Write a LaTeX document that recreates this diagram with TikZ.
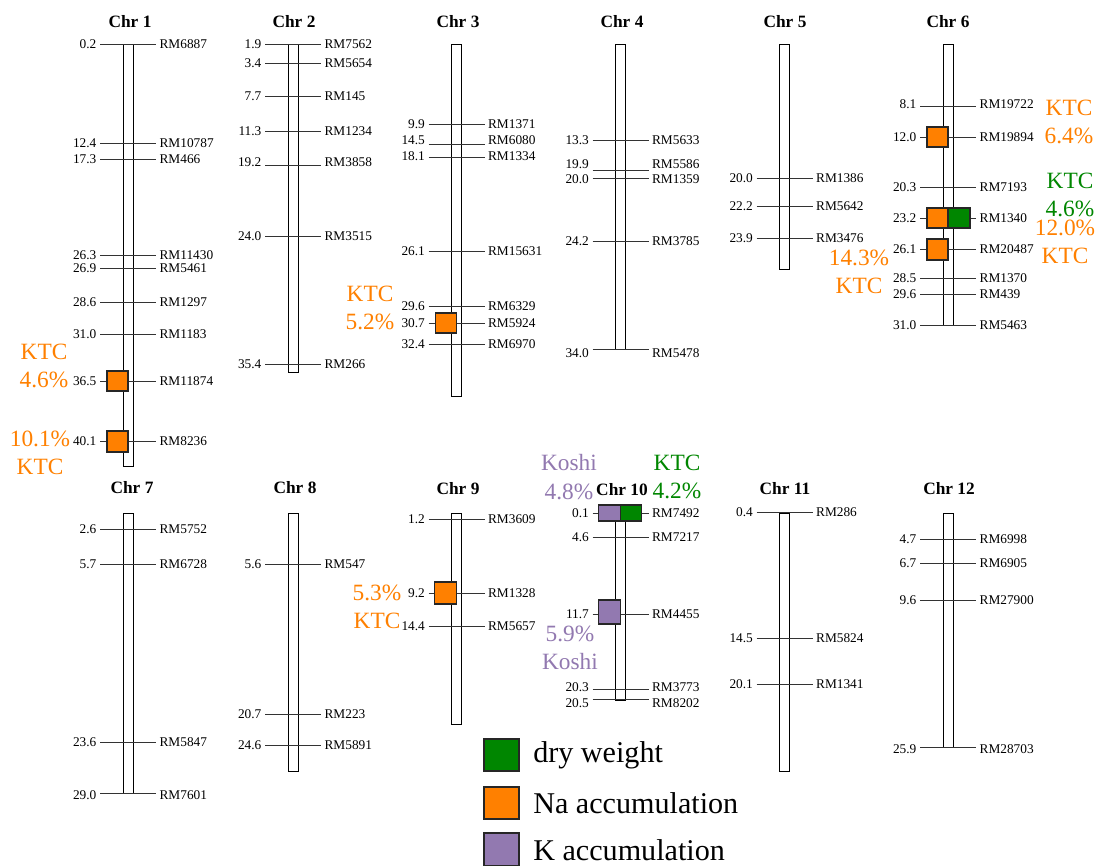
\documentclass[tikz,border=0pt]{standalone}
\usepackage{fontspec}
\setmainfont{Liberation Serif}
\usepackage{xcolor}
\definecolor{qtlorange}{RGB}{255,128,0}
\definecolor{qtlgreen}{RGB}{0,134,0}
\definecolor{qtlpurple}{RGB}{146,121,176}
\usepackage{tikz}
\usetikzlibrary{positioning}
% marker: name, bar centre, line y, label y, position, marker name
\newcommand{\mrk}[6]{%
  \draw[tick] (#2-28,#3) -- (#2+28,#3);
  \node[poslbl] (#1p) at (#2-28,#4) {#5};
  \node[mrklbl] (#1m) at (#2+28,#4) {#6};}
% chromosome body: bar centre, top, bottom
\newcommand{\chrbody}[3]{\draw[chrbar] (#1-5,#2) rectangle (#1+5,#3);}

\begin{document}
\begin{tikzpicture}[x=0.75pt, y=-0.75pt,
  tick/.style={line width=0.75pt, black!80},
  chrbar/.style={draw=black, line width=0.7pt},
  poslbl/.style={anchor=east, inner sep=2.5pt, font=\fontsize{10}{12}\selectfont},
  mrklbl/.style={anchor=west, inner sep=2.5pt, font=\fontsize{10}{12}\selectfont},
  chrtitle/.style={font=\fontsize{13}{15}\selectfont\bfseries},
  qtlbox/.style={draw=black!85, line width=0.8pt},
  qtllbl/.style={align=center, inner sep=0.5pt, font=\fontsize{17.5}{21.5}\selectfont},
  legtext/.style={anchor=west, inner sep=0pt, font=\fontsize{22.6}{26}\selectfont}]
  \useasboundingbox (0,0) rectangle (1100,865);

  % --- Row 1 ---
  % Chr 1
  \node[chrtitle] (chr1) at (130,22) {Chr 1};
  \chrbody{128}{44}{466}
  \mrk{c1a}{128}{44}{44}{0.2}{RM6887}
  \mrk{c1b}{128}{143}{143}{12.4}{RM10787}
  \mrk{c1c}{128}{159}{159}{17.3}{RM466}
  \mrk{c1d}{128}{255}{255}{26.3}{RM11430}
  \mrk{c1e}{128}{268}{268}{26.9}{RM5461}
  \mrk{c1f}{128}{302}{302}{28.6}{RM1297}
  \mrk{c1g}{128}{334}{334}{31.0}{RM1183}
  \mrk{c1h}{128}{381}{381}{36.5}{RM11874}
  \mrk{c1i}{128}{441}{441}{40.1}{RM8236}
  \draw[qtlbox, fill=qtlorange] (107,371) rectangle (128,391);
  \draw[qtlbox, fill=qtlorange] (107,431) rectangle (128,452);
  \node[qtllbl, qtlorange] (q1a) at (44,366) {KTC\\4.6\%};
  \node[qtllbl, qtlorange] (q1b) at (40,453) {10.1\%\\KTC};

  % Chr 2
  \node[chrtitle] (chr2) at (294,22) {Chr 2};
  \chrbody{293}{44}{372}
  \mrk{c2a}{293}{44}{44}{1.9}{RM7562}
  \mrk{c2b}{293}{63}{63}{3.4}{RM5654}
  \mrk{c2c}{293}{96}{96}{7.7}{RM145}
  \mrk{c2d}{293}{131}{131}{11.3}{RM1234}
  \mrk{c2e}{293}{165}{162}{19.2}{RM3858}
  \mrk{c2f}{293}{236}{236}{24.0}{RM3515}
  \mrk{c2g}{293}{364}{364}{35.4}{RM266}

  % Chr 3
  \node[chrtitle] (chr3) at (458,22) {Chr 3};
  \chrbody{456.5}{44}{396}
  \mrk{c3a}{456.5}{124}{124}{9.9}{RM1371}
  \mrk{c3b}{456.5}{144}{140}{14.5}{RM6080}
  \mrk{c3c}{456.5}{157}{156}{18.1}{RM1334}
  \mrk{c3d}{456.5}{251}{251}{26.1}{RM15631}
  \mrk{c3e}{456.5}{306}{306}{29.6}{RM6329}
  \mrk{c3f}{456.5}{323}{323}{30.7}{RM5924}
  \mrk{c3g}{456.5}{344}{344}{32.4}{RM6970}
  \draw[qtlbox, fill=qtlorange] (435.5,313) rectangle (456.5,333);
  \node[qtllbl, qtlorange] (q3a) at (370,308) {KTC\\5.2\%};

  % Chr 4
  \node[chrtitle] (chr4) at (622,22) {Chr 4};
  \chrbody{620.5}{44}{349}
  \mrk{c4a}{620.5}{140}{140}{13.3}{RM5633}
  \mrk{c4b}{620.5}{170}{164}{19.9}{RM5586}
  \mrk{c4c}{620.5}{178}{179}{20.0}{RM1359}
  \mrk{c4d}{620.5}{241}{241}{24.2}{RM3785}
  \mrk{c4e}{620.5}{349}{353}{34.0}{RM5478}

  % Chr 5
  \node[chrtitle] (chr5) at (785,22) {Chr 5};
  \chrbody{784.5}{44}{269}
  \mrk{c5a}{784.5}{178}{178}{20.0}{RM1386}
  \mrk{c5b}{784.5}{206}{206}{22.2}{RM5642}
  \mrk{c5c}{784.5}{238}{238}{23.9}{RM3476}
  \node[qtllbl, qtlorange] (q5a) at (859,272) {14.3\%\\KTC};

  % Chr 6
  \node[chrtitle] (chr6) at (948,22) {Chr 6};
  \chrbody{948}{44}{325}
  \mrk{c6a}{948}{106}{104}{8.1}{RM19722}
  \mrk{c6b}{948}{137}{137}{12.0}{RM19894}
  \mrk{c6c}{948}{187}{187}{20.3}{RM7193}
  \mrk{c6d}{948}{218}{218}{23.2}{RM1340}
  \mrk{c6e}{948}{249}{249}{26.1}{RM20487}
  \mrk{c6f}{948}{278}{278}{28.5}{RM1370}
  \mrk{c6g}{948}{294}{294}{29.6}{RM439}
  \mrk{c6h}{948}{325}{325}{31.0}{RM5463}
  \draw[qtlbox, fill=qtlorange] (927,127) rectangle (948,147);
  \draw[qtlbox, fill=qtlorange] (927,208) rectangle (948,228);
  \draw[qtlbox, fill=qtlgreen] (948,208) rectangle (970,228);
  \draw[qtlbox, fill=qtlorange] (927,239) rectangle (948,260);
  \node[qtllbl, qtlorange] (q6a) at (1069,122) {KTC\\6.4\%};
  \node[qtllbl, qtlgreen] (q6b) at (1070,195) {KTC\\4.6\%};
  \node[qtllbl, qtlorange] (q6c) at (1065,242) {12.0\%\\KTC};

  % --- Row 2 ---
  % Chr 7
  \node[chrtitle] (chr7) at (132,488) {Chr 7};
  \chrbody{128}{513}{793}
  \mrk{c7a}{128}{529}{529}{2.6}{RM5752}
  \mrk{c7b}{128}{564}{564}{5.7}{RM6728}
  \mrk{c7c}{128}{742}{742}{23.6}{RM5847}
  \mrk{c7d}{128}{793}{795}{29.0}{RM7601}

  % Chr 8
  \node[chrtitle] (chr8) at (295,488) {Chr 8};
  \chrbody{293}{513}{771}
  \mrk{c8a}{293}{564}{564}{5.6}{RM547}
  \mrk{c8b}{293}{714}{714}{20.7}{RM223}
  \mrk{c8c}{293}{745}{745}{24.6}{RM5891}

  % Chr 9
  \node[chrtitle] (chr9) at (458,489) {Chr 9};
  \chrbody{456.5}{513}{724}
  \mrk{c9a}{456.5}{519}{519}{1.2}{RM3609}
  \mrk{c9b}{456.5}{593}{593}{9.2}{RM1328}
  \mrk{c9c}{456.5}{626}{626}{14.4}{RM5657}
  \draw[qtlbox, fill=qtlorange] (434.5,582) rectangle (456.5,604);
  \node[qtllbl, qtlorange] (q9a) at (377,607) {5.3\%\\KTC};

  % Chr 10
  \node[chrtitle] (chr10) at (622,490) {Chr 10};
  \chrbody{620.5}{513}{700}
  \mrk{c10a}{620.5}{513}{513}{0.1}{RM7492}
  \mrk{c10b}{620.5}{537}{537}{4.6}{RM7217}
  \mrk{c10c}{620.5}{614}{614}{11.7}{RM4455}
  \mrk{c10d}{620.5}{689}{687}{20.3}{RM3773}
  \mrk{c10e}{620.5}{699}{703}{20.5}{RM8202}
  \draw[qtlbox, fill=qtlpurple] (598.5,505) rectangle (620.5,521);
  \draw[qtlbox, fill=qtlgreen] (620.5,505) rectangle (641.5,521);
  \draw[qtlbox, fill=qtlpurple] (598.5,600) rectangle (620.5,624);
  \node[qtllbl, qtlpurple] (q10a) at (569,477) {Koshi\\4.8\%};
  \node[qtllbl, qtlgreen] (q10b) at (677,477) {KTC\\4.2\%};
  \node[qtllbl, qtlpurple] (q10c) at (570,648) {5.9\%\\Koshi};

  % Chr 11
  \node[chrtitle] (chr11) at (785,489) {Chr 11};
  \chrbody{784.5}{513}{771}
  \mrk{c11a}{784.5}{512}{512}{0.4}{RM286}
  \mrk{c11b}{784.5}{638}{638}{14.5}{RM5824}
  \mrk{c11c}{784.5}{684}{684}{20.1}{RM1341}

  % Chr 12
  \node[chrtitle] (chr12) at (949,489) {Chr 12};
  \chrbody{948}{513}{747}
  \mrk{c12a}{948}{539}{539}{4.7}{RM6998}
  \mrk{c12b}{948}{563}{563}{6.7}{RM6905}
  \mrk{c12c}{948}{600}{600}{9.6}{RM27900}
  \mrk{c12d}{948}{747}{749}{25.9}{RM28703}

  % Legend
  \draw[qtlbox, fill=qtlgreen] (484,739) rectangle (519,771);
  \node[legtext] (legdw) at (533,755) {dry weight};
  \draw[qtlbox, fill=qtlorange] (484,787) rectangle (519,819);
  \node[legtext] (legna) at (533,803) {Na accumulation};
  \draw[qtlbox, fill=qtlpurple] (484,833) rectangle (519,866);
  \node[legtext] (legk) at (533,850) {K accumulation};
\end{tikzpicture}
\end{document}
